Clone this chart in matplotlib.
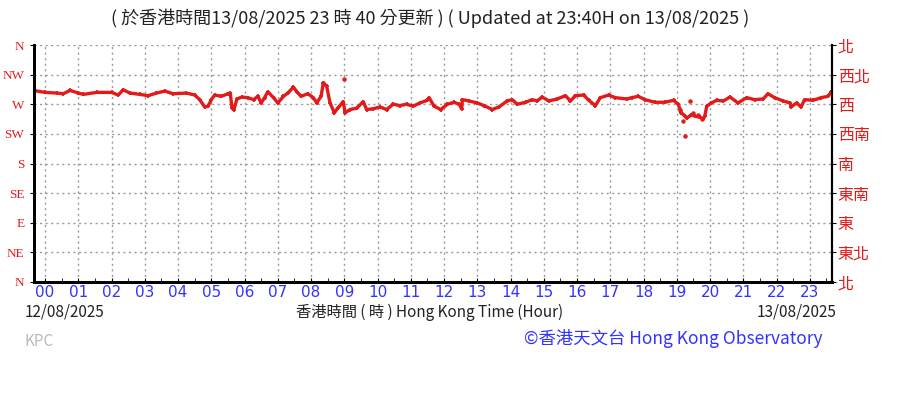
import matplotlib
matplotlib.use("Agg")
import matplotlib.pyplot as plt
from matplotlib.ticker import MultipleLocator

# wind direction (degrees) vs hour of 13/08/2025 (negative = previous evening)
hours = [-0.35, 0.0, 0.35, 0.55, 0.75, 1.0, 1.15, 1.55, 2.0, 2.2, 2.35, 2.55, 2.85,
         3.1, 3.35, 3.6, 3.85, 4.25, 4.5, 4.65, 4.8, 4.9, 5.0, 5.1, 5.3, 5.5,
         5.57, 5.62, 5.68, 5.77, 5.92, 6.1, 6.27, 6.4, 6.5, 6.6, 6.7, 6.87, 7.0,
         7.17, 7.3, 7.47, 7.57, 7.7, 7.9, 8.07, 8.17, 8.3, 8.37, 8.47, 8.57, 8.7,
         8.8, 8.97, 9.02, 9.17, 9.37, 9.57, 9.67, 9.87, 10.07, 10.27, 10.47, 10.67,
         10.87, 11.07, 11.27, 11.5, 11.55, 11.7, 11.9, 12.1, 12.3, 12.45, 12.53,
         12.55, 12.75, 13.0, 13.2, 13.45, 13.65, 13.9, 14.05, 14.2, 14.45, 14.65,
         14.8, 14.95, 15.15, 15.4, 15.65, 15.8, 15.95, 16.2, 16.35, 16.55, 16.7,
         16.95, 17.15, 17.5, 17.64, 17.84, 18.04, 18.34, 18.64, 18.9, 19.04, 19.14,
         19.24, 19.3, 19.44, 19.54, 19.7, 19.8, 19.84, 19.9, 20.04, 20.2, 20.4,
         20.6, 20.84, 21.1, 21.34, 21.6, 21.74, 21.94, 22.2, 22.4, 22.44, 22.6,
         22.74, 22.84, 23.1, 23.34, 23.54, 23.64]
direction = [291, 288, 287, 286, 291, 287, 285, 288, 288, 284, 292, 287, 285,
             283, 287, 290, 286, 287, 284, 277, 266, 267, 277, 284, 282, 286,
             287, 265, 262, 278, 281, 280, 277, 282, 272, 280, 289, 280, 272,
             282, 287, 296, 289, 282, 286, 280, 272, 282, 303, 297, 272, 257,
             264, 274, 257, 262, 264, 274, 262, 263, 266, 262, 270, 268,
             270, 267, 272, 276, 280, 267, 262, 270, 273, 270, 263,
             277, 275, 272, 268, 262, 266, 275, 277, 270, 273, 277,
             275, 281, 275, 278, 283, 275, 283, 284, 276, 268, 280,
             284, 280, 278, 280, 282, 277, 273, 273, 276, 270, 257,
             252, 249, 254, 252, 250, 248, 252, 267, 272, 276, 275,
             281, 272, 280, 277, 278, 286, 280, 275, 272, 266, 272,
             266, 277, 276, 280, 282, 288]

# stray readings away from the main trace
stray_hours = [9.0, 19.24, 19.4, 19.1, 19.2, 19.5, 19.65, 19.75]
stray_direction = [308, 222, 275, 262, 244, 256, 253, 247]

dir_ticks = [0, 45, 90, 135, 180, 225, 270, 315, 360]
dir_labels_en = ["N", "NE", "E", "SE", "S", "SW", "W", "NW", "N"]
dir_labels_zh = ["北", "東北", "東", "東南", "南", "西南", "西", "西北", "北"]
hour_ticks = list(range(24))
hour_labels = ["%02d" % h for h in hour_ticks]

RED = "#e31a1a"
BLUE = "#3333ff"
CJK = ["Noto Sans CJK TC", "DejaVu Sans"]

fig = plt.figure(figsize=(9.07, 3.93), dpi=100)
ax = fig.add_axes([34 / 907, 1 - 282 / 393, (832 - 34) / 907, (282 - 45) / 393])

ax.plot(hours, direction, color=RED, lw=2.4, marker="+", ms=3.5, mew=1.3)
ax.plot(stray_hours, stray_direction, ls="none", color=RED, marker="o", ms=2.2)

ax.set_xlim(-1 / 3, 23 + 2 / 3)
ax.set_ylim(0, 360)

ax.set_xticks(hour_ticks)
ax.set_xticklabels(hour_labels, color=BLUE, fontsize=11)
ax.xaxis.set_minor_locator(MultipleLocator(0.5))
ax.tick_params(axis="x", which="both", direction="in", length=3, pad=2)

ax.set_yticks(dir_ticks)
ax.set_yticklabels(dir_labels_en, color=RED, fontsize=9.5, family="Liberation Serif")
ax.tick_params(axis="y", direction="out", length=3, pad=4, left=True, right=True)

ax2 = ax.twinx()
ax2.set_ylim(0, 360)
ax2.set_yticks(dir_ticks)
ax2.set_yticklabels(dir_labels_zh, color=RED, fontsize=11.5, family=CJK)
ax2.tick_params(axis="y", direction="out", length=3, pad=1)

ax.grid(True, color="#999999", ls=(0, (1.5, 2.5)), lw=1)
for a in (ax, ax2):
    a.spines["top"].set_visible(False)
    a.spines["left"].set_linewidth(2)
    a.spines["bottom"].set_linewidth(2)
    a.spines["right"].set_linewidth(1.5)

fig.text(0.474, 1 - 18 / 393,
         "( 於香港時間13/08/2025 23 時 40 分更新 ) ( Updated at 23:40H on 13/08/2025 )",
         ha="center", va="center", fontsize=13, color="#222222", family=CJK)
fig.text(25 / 907, 1 - 312 / 393, "12/08/2025", ha="left", va="center",
         fontsize=11, color="#222222", family=CJK)
fig.text(430 / 907, 1 - 312 / 393, "香港時間 ( 時 ) Hong Kong Time (Hour)", ha="center",
         va="center", fontsize=11, color="#222222", family=CJK)
fig.text(837 / 907, 1 - 312 / 393, "13/08/2025", ha="right", va="center",
         fontsize=11, color="#222222", family=CJK)
fig.text(25 / 907, 1 - 342 / 393, "KPC", ha="left", va="center",
         fontsize=11, color="#bbbbbb", family=CJK)
fig.text(823 / 907, 1 - 338 / 393, "©香港天文台 Hong Kong Observatory", ha="right",
         va="center", fontsize=12.5, color=BLUE, family=CJK)

fig.savefig("out.png", dpi=100)
